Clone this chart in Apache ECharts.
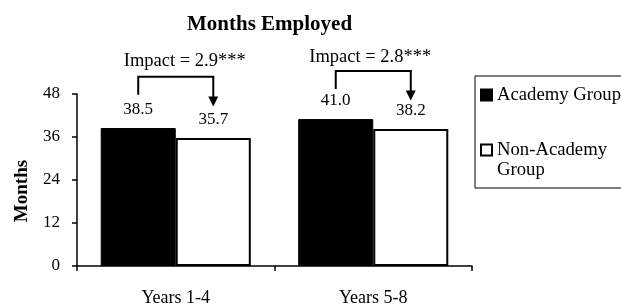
<!DOCTYPE html>
<html>
<head>
<meta charset="utf-8">
<script src="https://cdn.jsdelivr.net/npm/echarts@6/dist/echarts.min.js"></script>
<style>html,body{margin:0;padding:0;background:#fff;}#c{width:621px;height:307px;}</style>
</head>
<body>
<div id="c"></div>
<script>
const categories = ['Years 1-4', 'Years 5-8'];
const academy = [38.5, 41.0];
const nonAcademy = [35.7, 38.2];
const yTicks = [0, 12, 24, 36, 48];
const impactText = ['Impact = 2.9***', 'Impact = 2.8***'];
// annotation levels in axis units
const bracketStart = [47.8, 49.4];
const bracketTop = [52.8, 54.4];
const arrowTip = [44.5, 46.2];
const impactLevel = [57.2, 58.3];

const FONT = "'Liberation Serif', 'Times New Roman', serif";
const CAT_GAP = 0.24;
const impactShift = [9, -3];

const chart = echarts.init(document.getElementById('c'), null, {renderer: 'canvas'});
chart.setOption({
  animation: false,
  backgroundColor: '#fff',
  textStyle: {fontFamily: FONT, color: '#000'},
  title: {
    text: 'Months Employed',
    left: 182, top: 9,
    textStyle: {fontFamily: FONT, fontSize: 21, fontWeight: 'bold', color: '#000'}
  },
  legend: {
    orient: 'vertical',
    left: 475, top: 76,
    padding: [9, 220, 8, 5],
    borderColor: '#000', borderWidth: 1,
    itemWidth: 11, itemHeight: 11, itemGap: 15,
    selectedMode: false,
    data: [{name: 'Academy Group', icon: 'rect'}, {name: 'Non-Academy Group', icon: 'rect'}],
    formatter: function (n) { return n === 'Non-Academy Group' ? ' \nNon-Academy\nGroup' : n; },
    textStyle: {fontFamily: FONT, fontSize: 18.7, lineHeight: 20, color: '#000'}
  },
  grid: {left: 77, right: 149, top: 94, bottom: 40},
  xAxis: {
    type: 'category',
    data: categories,
    axisLine: {lineStyle: {color: '#000', width: 1.5}},
    axisTick: {show: true, length: 5, lineStyle: {color: '#000', width: 1.5}},
    axisLabel: {fontFamily: FONT, fontSize: 18, color: '#000', margin: 23}
  },
  yAxis: {
    type: 'value',
    min: yTicks[0], max: yTicks[yTicks.length - 1], interval: 12,
    name: 'Months',
    nameLocation: 'middle',
    nameGap: 45,
    nameTextStyle: {fontFamily: FONT, fontSize: 19, fontWeight: 'bold', color: '#000', padding: [0, 22, 0, 0]},
    axisLine: {show: true, lineStyle: {color: '#000', width: 1.5}},
    axisTick: {show: true, length: 5, lineStyle: {color: '#000', width: 1.5}},
    splitLine: {show: false},
    axisLabel: {fontFamily: FONT, fontSize: 17, color: '#000', margin: 17}
  },
  series: [
    {
      name: 'Academy Group', type: 'bar', data: academy,
      barGap: '0%', barCategoryGap: (CAT_GAP * 100) + '%',
      itemStyle: {color: '#000', borderColor: '#000', borderWidth: 1},
      label: {show: true, position: 'top', distance: 10, fontFamily: FONT, fontSize: 17, color: '#000',
        formatter: p => p.value.toFixed(1)}
    },
    {
      name: 'Non-Academy Group', type: 'bar', data: nonAcademy,
      barGap: '0%', barCategoryGap: (CAT_GAP * 100) + '%',
      itemStyle: {color: '#fff', borderColor: '#000', borderWidth: 2},
      label: {show: true, position: 'top', distance: 10, fontFamily: FONT, fontSize: 17, color: '#000',
        formatter: p => p.value.toFixed(1)}
    },
    {
      type: 'custom',
      clip: false,
      silent: true,
      encode: {x: 0, y: 1},
      data: categories.map((c, i) => [i, bracketStart[i], bracketTop[i], arrowTip[i], impactLevel[i]]),
      renderItem: function (params, api) {
        const i = api.value(0);
        const band = api.size([1, 0])[0];
        const bw = band * (1 - CAT_GAP) / 2;
        const cx = api.coord([i, 0])[0];
        const xl = cx - bw / 2, xr = cx + bw / 2;
        const yS = api.coord([i, api.value(1)])[1];
        const yT = api.coord([i, api.value(2)])[1];
        const yA = api.coord([i, api.value(3)])[1];
        const yL = api.coord([i, api.value(4)])[1];
        const ah = 10, aw = 5;
        return {
          type: 'group',
          children: [
            {type: 'polyline', shape: {points: [[xl, yS], [xl, yT], [xr, yT], [xr, yA - ah + 1]]},
              style: {stroke: '#000', lineWidth: 2, fill: null}},
            {type: 'polygon', shape: {points: [[xr - aw, yA - ah], [xr + aw, yA - ah], [xr, yA]]},
              style: {fill: '#000'}},
            {type: 'text', x: cx + impactShift[i], y: yL,
              style: {text: impactText[i], fontFamily: FONT, fontSize: 18.5, fill: '#000', align: 'center', verticalAlign: 'middle'}}
          ]
        };
      }
    }
  ]
});
</script>
</body>
</html>
